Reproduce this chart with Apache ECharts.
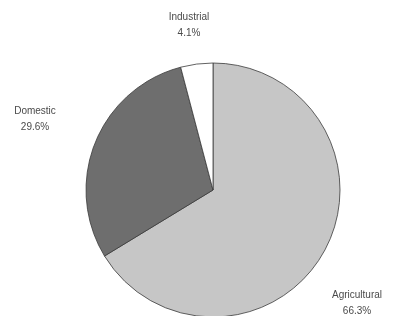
<!DOCTYPE html>
<html>
<head>
<meta charset="utf-8">
<script src="https://cdn.jsdelivr.net/npm/echarts@6/dist/echarts.min.js"></script>
<style>
html,body{margin:0;padding:0;background:#fff;}
#chart{width:402px;height:316px;}
</style>
</head>
<body>
<div id="chart"></div>
<script>
var categories = ['Agricultural', 'Domestic', 'Industrial'];
var values = [66.3, 29.6, 4.1];
var colors = ['#c6c6c6', '#6e6e6e', '#ffffff'];
var labelPos = [[357, 303], [35, 119], [189, 25]];

var chart = echarts.init(document.getElementById('chart'), null, {renderer: 'canvas'});
chart.setOption({
  animation: false,
  series: [{
    type: 'pie',
    center: [213, 190],
    radius: 127,
    startAngle: 90,
    clockwise: true,
    data: categories.map(function (c, i) {
      return {name: c, value: values[i], itemStyle: {color: colors[i]}};
    }),
    itemStyle: {borderColor: '#3a3a3a', borderWidth: 0.8},
    label: {
      show: true,
      position: 'outside',
      alignTo: 'none',
      overflow: 'none',
      width: 200,
      formatter: function (p) { return p.name + '\n' + p.value.toFixed(1) + '%'; },
      fontFamily: 'Liberation Sans, Arial, sans-serif',
      fontSize: 10,
      lineHeight: 16,
      color: '#4a4a4a',
      align: 'center'
    },
    labelLine: {show: false},
    labelLayout: function (params) {
      var p = labelPos[params.dataIndex];
      return {x: p[0], y: p[1], align: 'center', verticalAlign: 'middle'};
    },
    emphasis: {disabled: true}
  }]
});
</script>
</body>
</html>
